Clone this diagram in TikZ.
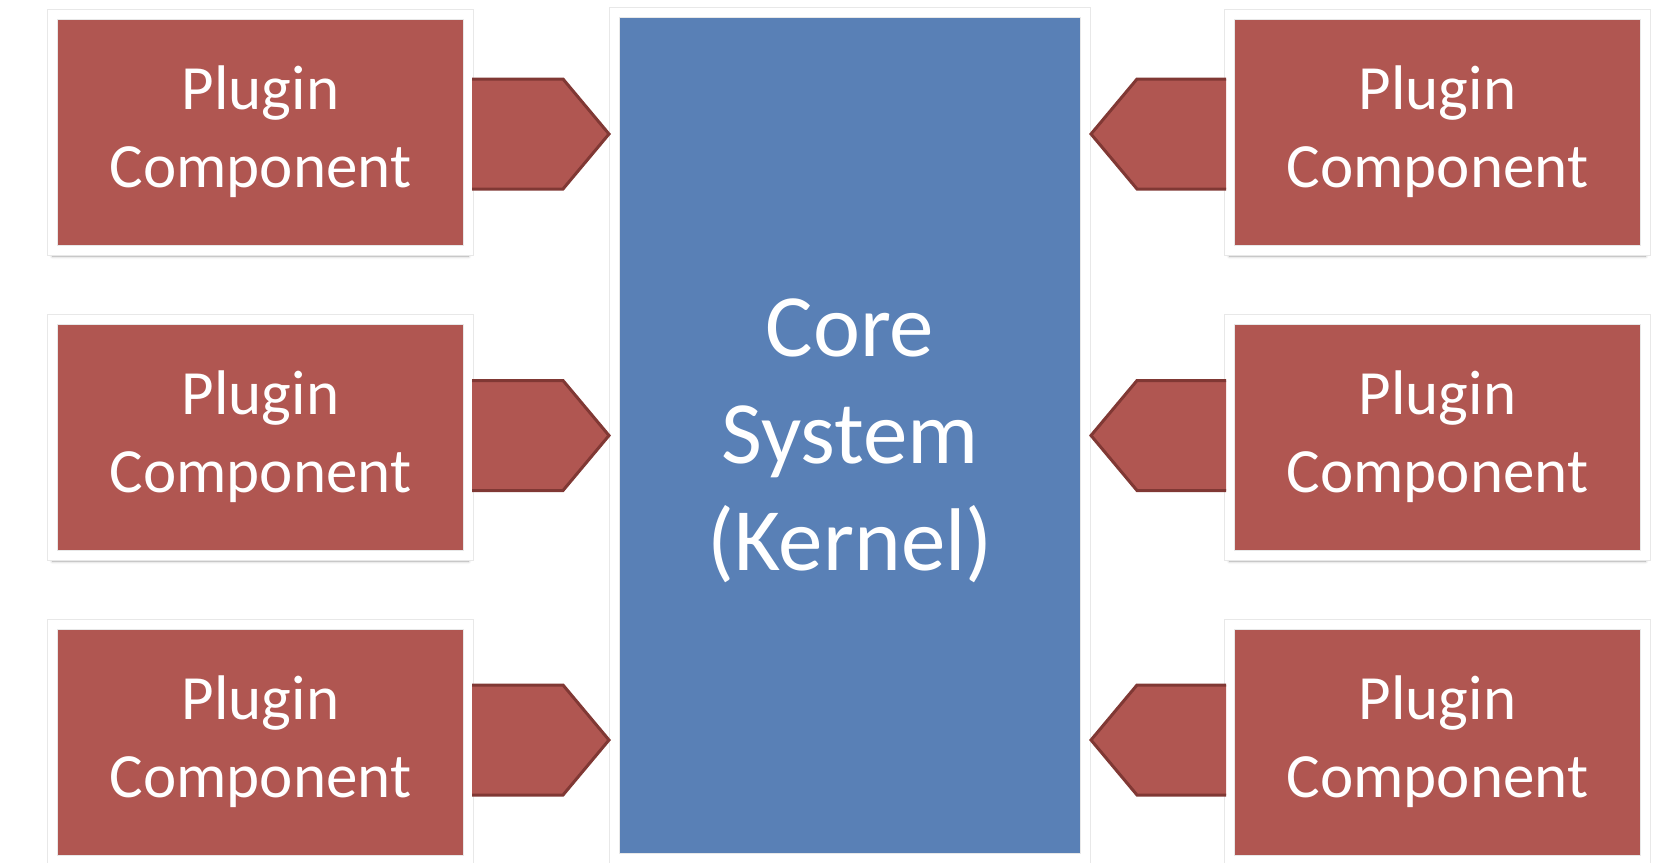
\documentclass[tikz,border=0pt]{standalone}
\usepackage{fontspec}
\setmainfont{Carlito}
\usetikzlibrary{shadows.blur}

\definecolor{plugred}{RGB}{176,86,81}
\definecolor{plugdark}{RGB}{128,56,52}
\definecolor{coreblue}{RGB}{89,128,182}

\begin{document}
\begin{tikzpicture}[x=1pt,y=-1pt,line join=miter,
  framed/.style={draw=black!9,line width=1pt,double=white,double distance=9pt,
    inner sep=0pt,outer sep=5.5pt,text=white,align=center,
    blur shadow={shadow xshift=0pt,shadow yshift=-6pt,
      shadow blur radius=3pt,shadow opacity=35}},
  plugin/.style={framed,fill=plugred,
    minimum width=416pt,minimum height=236pt,
    font=\fontsize{63}{78}\selectfont},
  kernel/.style={framed,fill=coreblue,
    minimum width=471pt,minimum height=846pt,
    font=\fontsize{89}{107}\selectfont},
  conn/.style={fill=plugred,draw=plugdark,line width=3pt},
]
\useasboundingbox (0,0) rectangle (1654,862);
%%
\node (core) at (850,435.5) [kernel] {\raisebox{-7pt}[\height][\depth]{\begin{tabular}{@{}c@{}}Core\\System\\(Kernel)\end{tabular}}};
\node (plugin_l1) at (260.5,132) [plugin] {Plugin\\Component};
\node (plugin_l2) at (260.5,437) [plugin] {Plugin\\Component};
\node (plugin_l3) at (260.5,742) [plugin] {Plugin\\Component};
\node (plugin_r1) at (1437.5,132) [plugin] {Plugin\\Component};
\node (plugin_r2) at (1437.5,437) [plugin] {Plugin\\Component};
\node (plugin_r3) at (1437.5,742) [plugin] {Plugin\\Component};
%
\foreach \i/\dy in {1/2,2/-1.5,3/-2} {
  \coordinate (tip_l\i) at ([yshift=-\dy pt]plugin_l\i.east -| core.west);
  \coordinate (tip_r\i) at ([yshift=-\dy pt]plugin_r\i.west -| core.east);
  \draw [conn] (tip_l\i) ++(-137,-55) -- ++(91,0) -- (tip_l\i) -- ++(-46,55) -- ++(-91,0);
  \draw [conn] (tip_r\i) ++(135,-55) -- ++(-89,0) -- (tip_r\i) -- ++(46,55) -- ++(89,0);
}
%
\end{tikzpicture}
\end{document}
